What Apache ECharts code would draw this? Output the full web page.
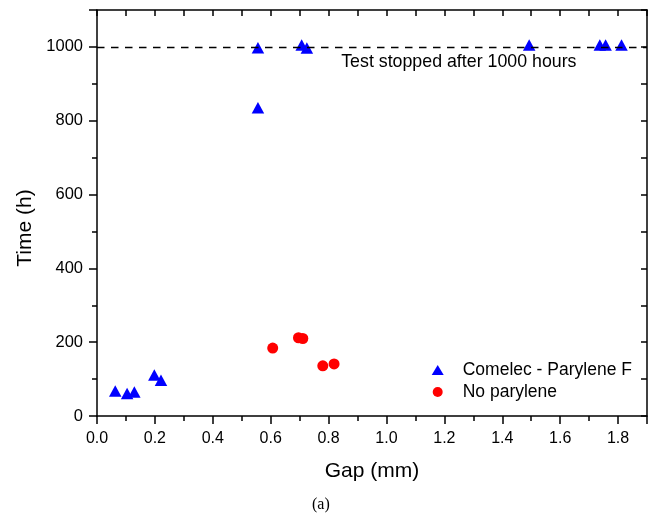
<!DOCTYPE html>
<html>
<head>
<meta charset="utf-8">
<script src="https://cdn.jsdelivr.net/npm/echarts@6/dist/echarts.min.js"></script>
<style>
html,body{margin:0;padding:0;background:#fff;}
#chart{width:648px;height:519px;}
</style>
</head>
<body>
<div id="chart"></div>
<script>
const comelecGap  = [0.063, 0.104, 0.129, 0.198, 0.221, 0.556, 0.556, 0.707, 0.725, 1.493, 1.737, 1.757, 1.812];
const comelecTime = [68, 61, 65, 111, 97, 998, 835, 1005, 997, 1005, 1005, 1005, 1005];
const noParyGap   = [0.607, 0.696, 0.711, 0.780, 0.819];
const noParyTime  = [184, 212, 210, 136, 141];
const seriesNames = ['Comelec - Parylene F', 'No parylene'];
const stopLimit = 1000;
const annotationText = 'Test stopped after 1000 hours';
const annotationAt = [1.25, 958];
const xLabel = 'Gap (mm)';
const yLabel = 'Time (h)';
const caption = '(a)';

const FONT = "'Liberation Sans', Arial, sans-serif";
const zip = (a, b) => a.map((v, i) => [v, b[i]]);

const chart = echarts.init(document.getElementById('chart'), null, {renderer: 'canvas'});
const mainAxisCommon = {
  axisLine: {show: true, onZero: false, lineStyle: {color: '#000', width: 1.5}},
  splitLine: {show: false},
  minorSplitLine: {show: false}
};
chart.setOption({
  animation: false,
  backgroundColor: '#fff',
  grid: {left: 97, top: 10, width: 550, height: 406, containLabel: false},
  xAxis: [
    Object.assign({
      type: 'value', min: 0, max: 1.9, interval: 0.2,
      name: xLabel, nameLocation: 'middle', nameGap: 45,
      nameTextStyle: {fontFamily: FONT, fontSize: 21, color: '#000'},
      axisTick: {show: true, inside: false, length: 8, lineStyle: {color: '#000', width: 1.5}},
      minorTick: {show: true, splitNumber: 2, length: 5, lineStyle: {color: '#000', width: 1.5}},
      axisLabel: {fontFamily: FONT, fontSize: 16, color: '#000', margin: 15, showMaxLabel: false,
                  formatter: v => v.toFixed(1)}
    }, mainAxisCommon),
    Object.assign({
      type: 'value', min: 0, max: 1.9, interval: 0.1, position: 'top',
      axisTick: {show: true, inside: true, length: 6, lineStyle: {color: '#000', width: 1.5}},
      axisLabel: {show: false}
    }, mainAxisCommon)
  ],
  yAxis: [
    Object.assign({
      type: 'value', min: 0, max: 1100, interval: 200,
      name: yLabel, nameLocation: 'middle', nameGap: 55,
      nameTextStyle: {fontFamily: FONT, fontSize: 21, color: '#000', padding: [0, 30, 0, 0]},
      axisTick: {show: true, inside: false, length: 8, lineStyle: {color: '#000', width: 1.5}},
      minorTick: {show: true, splitNumber: 2, length: 5, lineStyle: {color: '#000', width: 1.5}},
      axisLabel: {fontFamily: FONT, fontSize: 16.5, color: '#000', margin: 14, showMaxLabel: false,
                  formatter: v => String(v)}
    }, mainAxisCommon),
    Object.assign({
      type: 'value', min: 0, max: 1100, interval: 100, position: 'right',
      axisTick: {show: true, inside: true, length: 6, lineStyle: {color: '#000', width: 1.5}},
      axisLabel: {show: false}
    }, mainAxisCommon)
  ],
  legend: {
    orient: 'vertical', left: 431.7, top: 361, padding: 0,
    itemWidth: 12, itemHeight: 10, itemGap: 4,
    textStyle: {fontFamily: FONT, fontSize: 17.5, color: '#000', padding: [0, 0, 0, 14]},
    data: [{name: seriesNames[0], icon: 'triangle'}, {name: seriesNames[1], icon: 'circle'}]
  },
  series: [
    {
      name: seriesNames[0], type: 'scatter', symbol: 'triangle', symbolSize: [12.5, 11.5],
      itemStyle: {color: '#0000ff', opacity: 1},
      data: zip(comelecGap, comelecTime),
      z: 3,
      markLine: {
        silent: true, symbol: ['none', 'none'], animation: false,
        label: {show: false},
        lineStyle: {color: '#000', type: [7.5, 6.5], width: 1.4},
        data: [{yAxis: stopLimit}]
      },
      markPoint: {
        silent: true, symbol: 'circle', symbolSize: 0,
        label: {show: true, position: 'inside', formatter: annotationText,
                fontFamily: FONT, fontSize: 17.8, color: '#000'},
        data: [{coord: annotationAt}]
      }
    },
    {
      name: seriesNames[1], type: 'scatter', symbol: 'circle', symbolSize: 11,
      itemStyle: {color: '#ff0000', opacity: 1},
      data: zip(noParyGap, noParyTime),
      z: 3
    }
  ],
  graphic: [{
    type: 'text', left: 312, top: 497,
    style: {text: caption, font: "16px 'Liberation Serif', 'Times New Roman', serif", fill: '#000'}
  }]
});
</script>
</body>
</html>
